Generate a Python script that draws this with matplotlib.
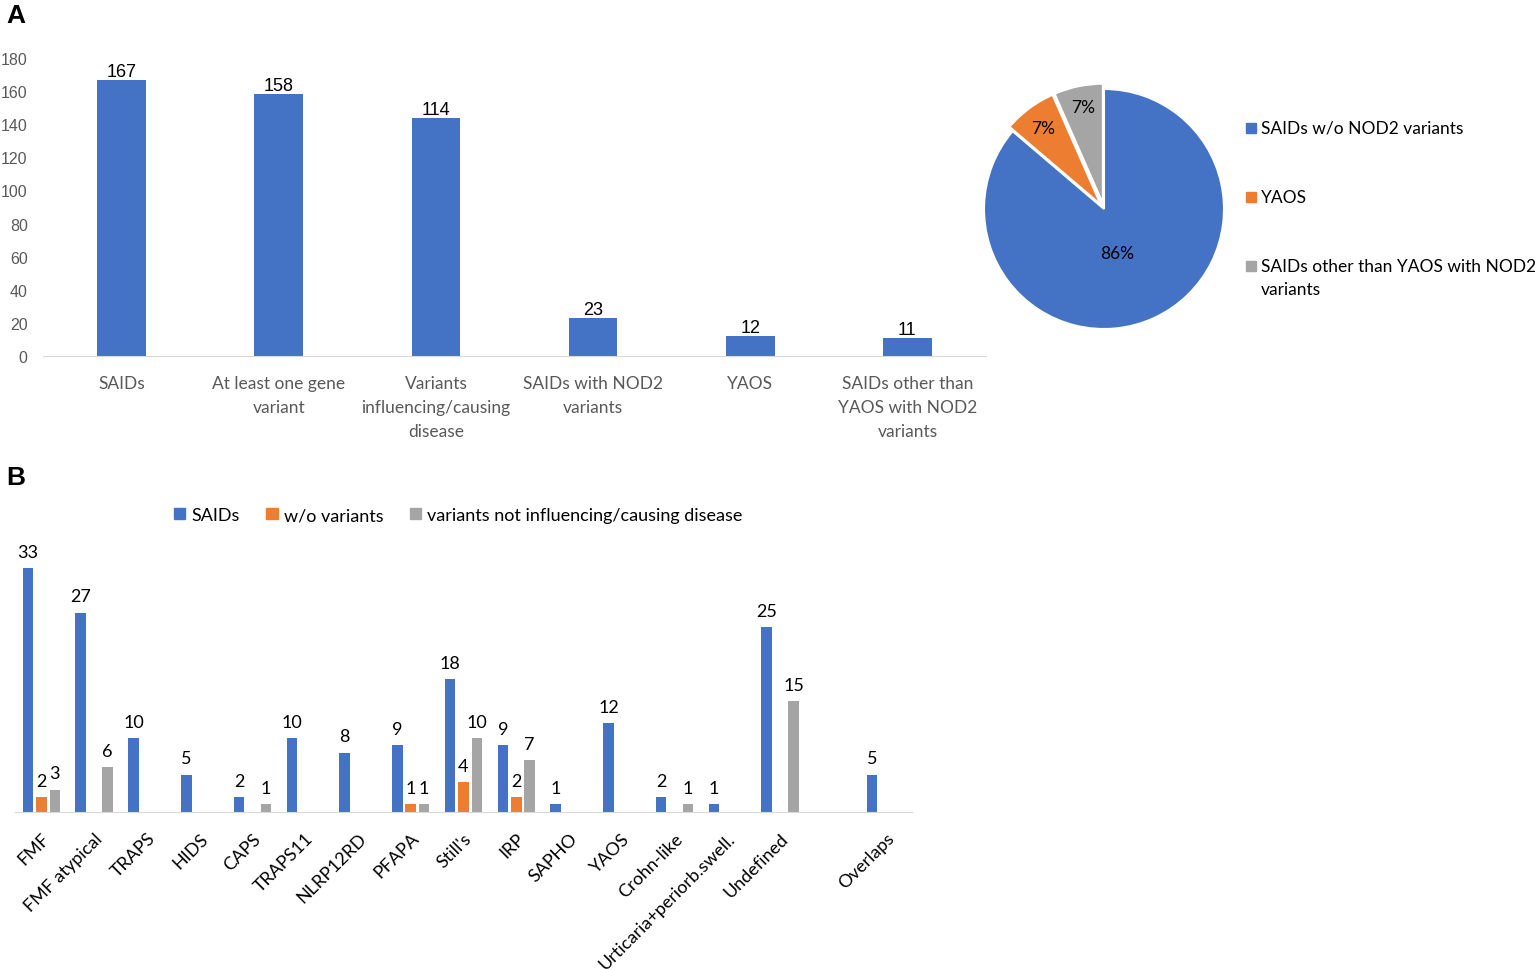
import matplotlib
matplotlib.use('Agg')
import matplotlib.pyplot as plt
import numpy as np

plt.rcParams['font.family'] = ['Lato', 'DejaVu Sans']

# ---- panel A data ----
a_categories = ['SAIDs', 'At least one gene\nvariant', 'Variants\ninfluencing/causing\ndisease',
                'SAIDs with NOD2\nvariants', 'YAOS', 'SAIDs other than\nYAOS with NOD2\nvariants']
a_values = [167, 158, 144, 23, 12, 11]
a_labels = ['167', '158', '114', '23', '12', '11']

pie_labels = ['SAIDs w/o NOD2 variants', 'YAOS', 'SAIDs other than YAOS with NOD2\nvariants']
pie_values = [144, 12, 11]

# ---- panel B data ----
b_categories = ['FMF', 'FMF atypical', 'TRAPS', 'HIDS', 'CAPS', 'TRAPS11', 'NLRP12RD', 'PFAPA',
                "Still's", 'IRP', 'SAPHO', 'YAOS', 'Crohn-like', 'Urticaria+periorb.swell.',
                'Undefined', '', 'Overlaps']
b_saids = [33, 27, 10, 5, 2, 10, 8, 9, 18, 9, 1, 12, 2, 1, 25, 0, 5]
b_wo = [2, 0, 0, 0, 0, 0, 0, 1, 4, 2, 0, 0, 0, 0, 0, 0, 0]
b_notinf = [3, 6, 0, 0, 1, 0, 0, 1, 10, 7, 0, 0, 1, 0, 15, 0, 0]
b_series = ['SAIDs', 'w/o variants', 'variants not influencing/causing disease']

BLUE, ORANGE, GRAY = '#4472C4', '#ED7D31', '#A5A5A5'
W, H = 1535, 970

fig = plt.figure(figsize=(W / 100, H / 100), dpi=100)


def box(x0, y0, x1, y1):
    # pixel box (top-left origin) -> figure fraction rect
    return [x0 / W, 1 - y1 / H, (x1 - x0) / W, (y1 - y0) / H]


# ---------- A: bar chart ----------
ax = fig.add_axes(box(43, 59, 986, 357))
xa = np.arange(len(a_values))
bars = ax.bar(xa, a_values, width=0.31, color=BLUE)
for b, t in zip(bars, a_labels):
    ax.annotate(t, (b.get_x() + b.get_width() / 2, b.get_height()), xytext=(0, 0),
                textcoords='offset points', ha='center', va='bottom',
                fontsize=13, family='Liberation Sans', color='black')
ax.set_xlim(-0.5, len(a_values) - 0.5)
ax.set_ylim(0, 180)
ax.set_yticks(range(0, 181, 20))
ax.set_xticks(xa)
ax.set_xticklabels(a_categories, fontsize=12.5, color='#595959', linespacing=1.6)
for lab in ax.get_yticklabels():
    lab.set_family('Liberation Sans')
    lab.set_fontsize(11.5)
    lab.set_color('#595959')
ax.tick_params(axis='y', length=0, pad=11)
ax.tick_params(axis='x', length=0, pad=14)
for s in ['top', 'right', 'left']:
    ax.spines[s].set_visible(False)
ax.spines['bottom'].set_color('#D9D9D9')

# ---------- A: pie ----------
axp = fig.add_axes(box(1104 - 130, 210 - 130, 1104 + 130, 210 + 130))
wedges, _ = axp.pie(pie_values, colors=[BLUE, ORANGE, GRAY], startangle=90, counterclock=False,
                    explode=[0, 0.045, 0.045], radius=1,
                    wedgeprops=dict(edgecolor='white', linewidth=1.5))
axp.set_xlim(-130 / 120, 130 / 120)
axp.set_ylim(-130 / 120, 130 / 120)
total = sum(pie_values)
dists = [0.4, 0.8, 0.82]
for w, v, d in zip(wedges, pie_values, dists):
    ang = np.deg2rad((w.theta1 + w.theta2) / 2)
    cx, cy = w.center
    axp.text(cx + d * np.cos(ang) - (0.06 if d < 0.5 else 0), cy + d * np.sin(ang),
             f'{round(100 * v / total)}%', ha='center', va='center', fontsize=12.5, color='black')

# pie legend
ly = [129, 198, 267]
for lab, col, y in zip(pie_labels, [BLUE, ORANGE, GRAY], ly):
    fig.patches.append(plt.Rectangle((1246 / W, 1 - (y + 5) / H), 10 / W, 10 / H,
                                     transform=fig.transFigure, color=col))
    fig.text(1261 / W, 1 - (y - 8) / H, lab, ha='left', va='top', fontsize=12.5,
             color='black', linespacing=1.55)

# ---------- B: grouped bars ----------
axb = fig.add_axes(box(15, 812.7 - 36 * 7.375, 912, 812.7))
xb = np.arange(len(b_categories))
off = 0.254
for vals, col, dx in [(b_saids, BLUE, -off), (b_wo, ORANGE, 0), (b_notinf, GRAY, off)]:
    bb = axb.bar(xb + dx, vals, width=0.2, color=col)
    for r, v in zip(bb, vals):
        if v > 0:
            axb.annotate(str(v), (r.get_x() + r.get_width() / 2, v), xytext=(0, 6),
                         textcoords='offset points', ha='center', va='bottom',
                         fontsize=13, color='black')
axb.set_xlim(-0.5, len(b_categories) - 0.5)
axb.set_ylim(0, 36)
axb.set_yticks([])
axb.set_xticks(xb)
axb.set_xticklabels(b_categories, rotation=45, ha='right', va='top', rotation_mode='anchor',
                    fontsize=13, color='black')
axb.tick_params(axis='x', length=0, pad=13)
for s in ['top', 'right', 'left']:
    axb.spines[s].set_visible(False)
axb.spines['bottom'].set_color('#D9D9D9')
axb.legend([plt.Rectangle((0, 0), 1, 1, color=c) for c in [BLUE, ORANGE, GRAY]], b_series,
           loc='center left', bbox_to_anchor=(158 / W, 1 - 516 / H), bbox_transform=fig.transFigure,
           ncol=3, frameon=False, fontsize=13, handlelength=0.62, handleheight=0.62,
           handletextpad=0.35, columnspacing=1.45)

# panel letters
fig.text(6 / W, 1 - 4 / H, 'A', fontsize=19, fontweight='bold', family='Liberation Sans',
         ha='left', va='top')
fig.text(6 / W, 1 - 466 / H, 'B', fontsize=19, fontweight='bold', family='Liberation Sans',
         ha='left', va='top')

fig.savefig('out.png', dpi=100)
